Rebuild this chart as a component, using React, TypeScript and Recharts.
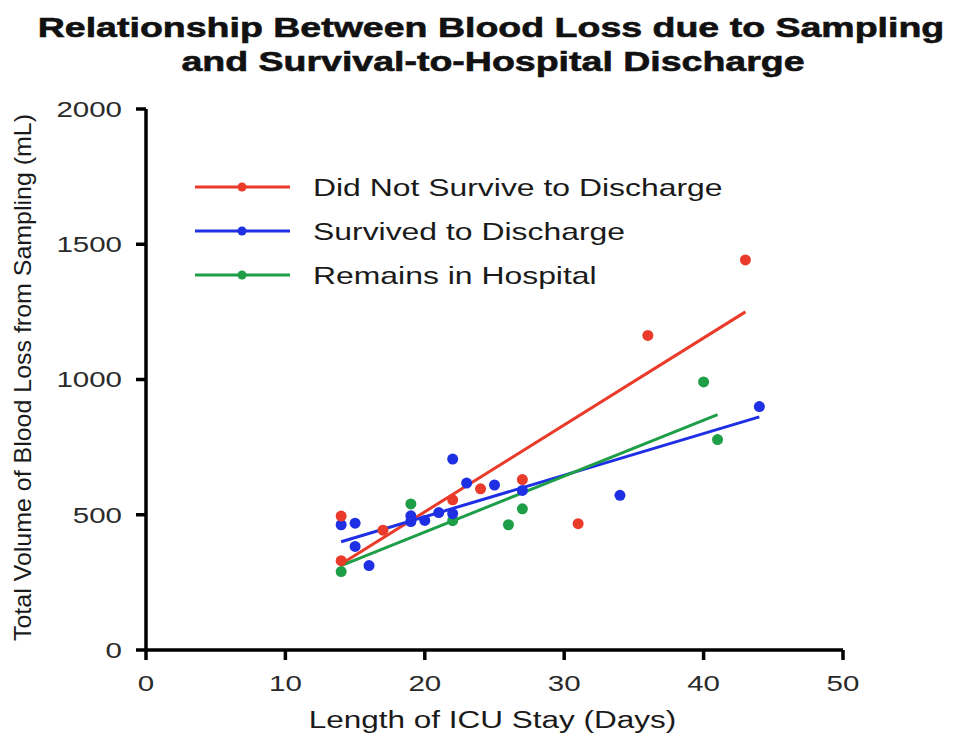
import React from "react";
import { ComposedChart, Scatter, Line, XAxis, YAxis } from "recharts";

const didNotSurvive = [
  { day: 14, ml: 495 }, { day: 14, ml: 330 }, { day: 17, ml: 443 }, { day: 22, ml: 555 },
  { day: 24, ml: 596 }, { day: 27, ml: 630 }, { day: 31, ml: 467 }, { day: 36, ml: 1163 },
  { day: 43, ml: 1442 },
];
const survived = [
  { day: 14, ml: 463 }, { day: 15, ml: 469 }, { day: 15, ml: 383 }, { day: 16, ml: 312 },
  { day: 19, ml: 496 }, { day: 19, ml: 475 }, { day: 20, ml: 479 }, { day: 21, ml: 508 },
  { day: 22, ml: 706 }, { day: 22, ml: 504 }, { day: 23, ml: 617 }, { day: 25, ml: 610 },
  { day: 27, ml: 590 }, { day: 34, ml: 572 }, { day: 44, ml: 900 },
];
const remains = [
  { day: 14, ml: 290 }, { day: 19, ml: 540 }, { day: 22, ml: 478 }, { day: 26, ml: 463 },
  { day: 27, ml: 522 }, { day: 40, ml: 991 }, { day: 41, ml: 778 },
];
const didNotSurviveFit = [{ day: 14, ml: 318 }, { day: 43, ml: 1250 }];
const survivedFit = [{ day: 14, ml: 400 }, { day: 44, ml: 862 }];
const remainsFit = [{ day: 14, ml: 312 }, { day: 41, ml: 870 }];

const xTicks = [0, 10, 20, 30, 40, 50];
const yTicks = [0, 500, 1000, 1500, 2000];
const seriesNames = ["Did Not Survive to Discharge", "Survived to Discharge", "Remains in Hospital"];
const titleLines = ["Relationship Between Blood Loss due to Sampling", "and Survival-to-Hospital Discharge"];
const xLabel = "Length of ICU Stay (Days)";
const yLabel = "Total Volume of Blood Loss from Sampling (mL)";
const colors = ["#ea3a2a", "#1e2fe4", "#1f9e48"];

const FONT = "'Liberation Sans', Arial, sans-serif";
const SX = 1.34;

const XTick = (p: any) => (
  <text transform={`translate(${p.x}, ${p.y + 29}) scale(${SX}, 1)`} textAnchor="middle"
    fontSize={22} fill="#2a2a2a" fontFamily={FONT}>{p.payload.value}</text>
);
const YTick = (p: any) => (
  <text transform={`translate(${p.x}, ${p.y}) scale(${SX}, 1)`} textAnchor="end" dy="0.36em"
    fontSize={22} fill="#2a2a2a" fontFamily={FONT}>{p.payload.value}</text>
);

const YLabel = (props: any) => {
  const vb = props.viewBox || {};
  const cx = 14;
  const cy = vb.y + vb.height / 2 - 2;
  return (
    <text x={cx} y={cy} transform={`rotate(-90, ${cx}, ${cy})`} textAnchor="middle" dy="0.36em"
      fontSize={24} textLength={527} lengthAdjust="spacingAndGlyphs" fill="#1a1a1a" fontFamily={FONT}>
      {yLabel}
    </text>
  );
};

const XLabel = (props: any) => {
  const vb = props.viewBox || {};
  const cx = vb.x + vb.width / 2 - 2;
  return (
    <text transform={`translate(${cx}, 720) scale(1.37, 1)`} textAnchor="middle"
      fontSize={23} fill="#1a1a1a" fontFamily={FONT}>{xLabel}</text>
  );
};

export default function App() {
  return (
    <div style={{ position: "relative", width: 945, height: 728, background: "#fff" }}>
      <ComposedChart width={945} height={728} margin={{ top: 101, right: 110, bottom: 26, left: 8 }}>
        <XAxis type="number" dataKey="day" domain={[0, 50]} ticks={xTicks} allowDuplicatedCategory={false}
          axisLine={{ stroke: "#000", strokeWidth: 3.5 }} tickLine={{ stroke: "#000", strokeWidth: 3.5 }}
          tickSize={10} tick={<XTick />} height={60} label={<XLabel />} />
        <YAxis type="number" dataKey="ml" domain={[0, 2000]} ticks={yTicks} width={130}
          axisLine={{ stroke: "#000", strokeWidth: 3.5 }} tickLine={{ stroke: "#000", strokeWidth: 3.5 }}
          tickSize={10} tickMargin={14} tick={<YTick />} label={<YLabel />} />
        <Line data={didNotSurviveFit} dataKey="ml" stroke={colors[0]} strokeWidth={3} dot={false} isAnimationActive={false} legendType="none" />
        <Line data={survivedFit} dataKey="ml" stroke={colors[1]} strokeWidth={3} dot={false} isAnimationActive={false} legendType="none" />
        <Line data={remainsFit} dataKey="ml" stroke={colors[2]} strokeWidth={3} dot={false} isAnimationActive={false} legendType="none" />
        <Scatter data={remains} dataKey="ml" fill={colors[2]} isAnimationActive={false} shape={(p: any) => <circle cx={p.cx} cy={p.cy} r={5.5} fill={colors[2]} />} />
        <Scatter data={survived} dataKey="ml" fill={colors[1]} isAnimationActive={false} shape={(p: any) => <circle cx={p.cx} cy={p.cy} r={5.5} fill={colors[1]} />} />
        <Scatter data={didNotSurvive} dataKey="ml" fill={colors[0]} isAnimationActive={false} shape={(p: any) => <circle cx={p.cx} cy={p.cy} r={5.5} fill={colors[0]} />} />
      </ComposedChart>
      <svg width={945} height={300} style={{ position: "absolute", left: 0, top: 0, pointerEvents: "none" }}>
        {titleLines.map((t, i) => (
          <text key={t} transform={`translate(${483 + i * 2}, ${29 + i * 34}) scale(${SX}, 1)`} textAnchor="middle"
            fontSize={28} fontWeight={700} fill="#111" stroke="#111" strokeWidth={0.6} fontFamily={FONT}>{t}</text>
        ))}
        {seriesNames.map((n, i) => (
          <g key={n} transform={`translate(0, ${179 + i * 44})`}>
            <line x1={187} x2={282} y1={0} y2={0} stroke={colors[i]} strokeWidth={3} />
            <circle cx={234} cy={0} r={4.5} fill={colors[i]} />
            <text transform={`translate(305, 9) scale(1.33, 1)`} fontSize={24} fill="#1a1a1a" fontFamily={FONT}>{n}</text>
          </g>
        ))}
      </svg>
    </div>
  );
}
